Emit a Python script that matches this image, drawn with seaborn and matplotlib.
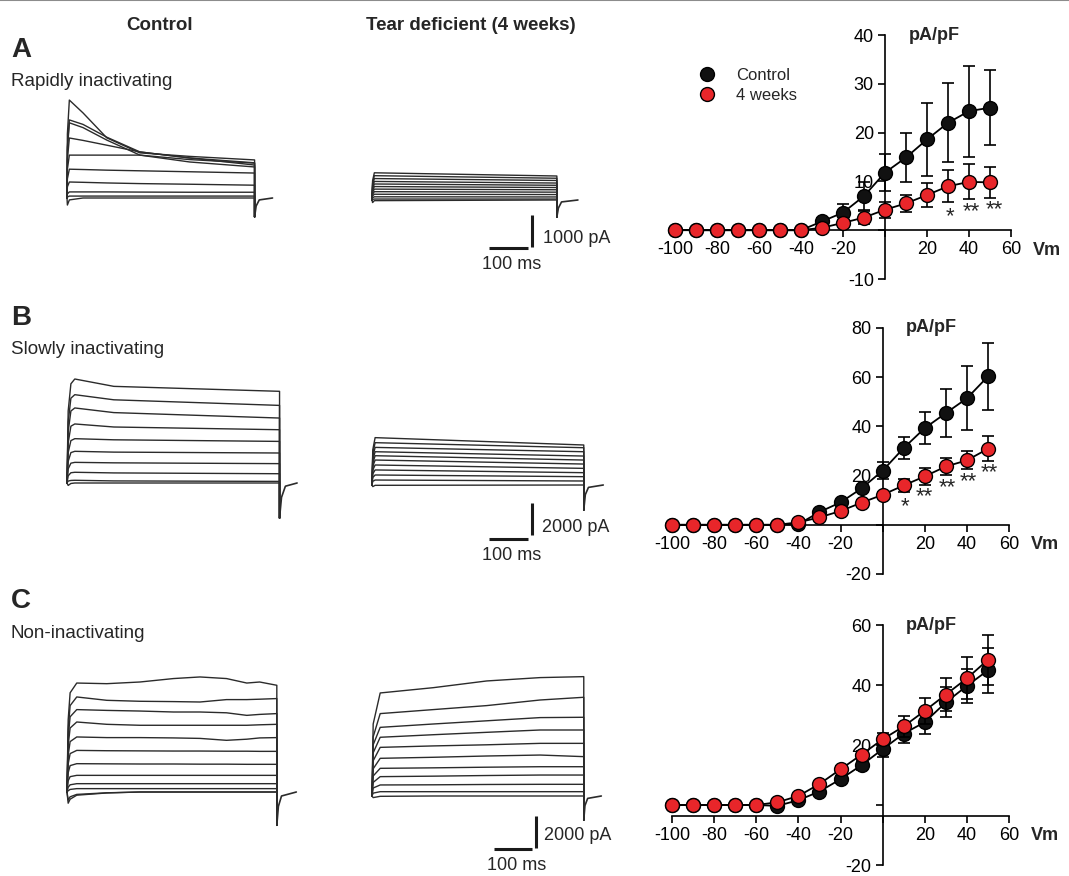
import numpy as np
import matplotlib
matplotlib.use('Agg')
import matplotlib.pyplot as plt
import seaborn as sns
from matplotlib.lines import Line2D

sns.set_style('white')
plt.rcParams['font.family'] = ['Liberation Sans', 'DejaVu Sans']

W, H = 1069, 876
PX_PER_MS = 0.39
TRACE_C = '#2b2b2b'
RED = '#e8262a'

# ---------------- I-V data (pA/pF vs Vm) ----------------
VM = [-100, -90, -80, -70, -60, -50, -40, -30, -20, -10, 0, 10, 20, 30, 40, 50]

A_CTRL = [0, 0, 0, 0, 0, 0, 0, 1.8, 3.6, 7.0, 11.8, 14.9, 18.6, 22.0, 24.4, 25.1]
A_CTRL_SEM = [0, 0, 0, 0, 0, 0, 0, 0.6, 1.8, 2.8, 3.8, 5.1, 7.4, 8.1, 9.3, 7.7]
A_4W = [0.1, 0, 0, 0, 0, 0, 0, 0.5, 1.5, 2.6, 4.2, 5.5, 7.2, 9.0, 9.9, 9.8]
A_4W_SEM = [0, 0, 0, 0, 0, 0, 0, 0.3, 0.5, 1.4, 1.6, 1.8, 2.5, 3.3, 3.6, 3.2]
A_STARS = [(31, 2.7, '*'), (41, 3.8, '**'), (52, 4.2, '**')]

B_CTRL = [0, 0, 0, 0, 0, 0, 0.2, 5.2, 9.1, 14.8, 22.0, 31.2, 39.3, 45.4, 51.4, 60.3]
B_CTRL_SEM = [0, 0, 0, 0, 0, 0, 0, 0.8, 1.0, 1.2, 3.4, 4.4, 6.6, 9.8, 13.0, 13.6]
B_4W = [0, 0, 0, 0, 0, 0, 1.0, 3.0, 5.6, 9.0, 12.2, 16.0, 19.7, 23.7, 26.2, 30.9]
B_4W_SEM = [0, 0, 0, 0, 0, 0, 0, 0.5, 0.8, 1.0, 1.2, 2.6, 3.4, 3.4, 3.6, 5.0]
B_STARS = [(10.5, 7.5, '*'), (20, 11.5, '**'), (30.5, 14.9, '**'), (40.5, 17.6, '**'), (50.5, 21.0, '**')]

C_CTRL = [0, 0, 0, 0, 0, -0.3, 1.6, 4.5, 8.6, 13.3, 18.6, 23.8, 27.6, 34.2, 39.7, 44.9]
C_CTRL_SEM = [0, 0, 0, 0, 0, 0, 0.5, 0.8, 1.2, 1.5, 2.5, 3.0, 3.9, 5.0, 5.8, 7.5]
C_4W = [0, 0, 0, 0, 0, 0.9, 3.0, 7.0, 11.9, 16.8, 21.9, 26.2, 31.4, 36.8, 42.2, 48.4]
C_4W_SEM = [0, 0, 0, 0, 0, 0, 0.5, 0.8, 1.0, 1.2, 2.0, 3.4, 4.3, 5.4, 7.0, 8.4]

# ---------------- current traces (ms, pA) ----------------
CTRL_A_T = [0, 1, 6, 41, 102, 187, 315, 481]
CTRL_A_I = [
    [0, 2000, 3060, 2660, 1880, 1410, 1300, 1190],
    [0, 1600, 2440, 2300, 1900, 1440, 1250, 1030],
    [0, 1500, 2350, 2200, 1810, 1340, 1125, 970],
    [0, 1200, 1875, 1800, 1650, 1440, 1250, 1100],
    [0, 900, 1340, 1340, 1340, 1340, 1200, 1090],
    [0, 600, 900, 890, 870, 850, 820, 780],
    [0, 350, 500, 490, 470, 450, 430, 400],
    [0, 130, 190, 190, 190, 185, 180, 180],
    [0, 30, 60, 60, 60, 60, 60, 60],
    [0, -220, -60, 0, 0, 0, 0, 0],
]
CTRL_A_TAIL_DT = [0, 4, 12, 46]
CTRL_A_TAIL_I = [-590, -250, -60, 0]

TEAR_A_T = [0, 1.5, 6, 474]
TEAR_A_I = [
    [0, 600, 850, 750],
    [0, 530, 760, 680],
    [0, 470, 670, 610],
    [0, 410, 580, 530],
    [0, 350, 500, 460],
    [0, 290, 420, 390],
    [0, 240, 340, 320],
    [0, 180, 260, 245],
    [0, 130, 180, 170],
    [0, 70, 100, 95],
    [0, 20, 30, 30],
    [0, -80, -20, 0],
]
TEAR_A_TAIL_DT = [0, 4, 12, 54]
TEAR_A_TAIL_I = [-530, -250, -60, 0]

CTRL_B_T = [0, 3, 10, 20, 120, 545]
CTRL_B_I = [
    [0, 4500, 6200, 6500, 6040, 5730],
    [0, 3800, 5300, 5520, 5200, 4850],
    [0, 3200, 4500, 4690, 4400, 4060],
    [0, 2500, 3550, 3690, 3500, 3330],
    [0, 1900, 2650, 2770, 2700, 2600],
    [0, 1350, 1900, 1980, 1930, 1875],
    [0, 880, 1240, 1290, 1260, 1210],
    [0, 450, 640, 670, 630, 580],
    [0, 120, 160, 170, 130, 100],
    [0, -150, -30, 0, 0, 0],
]
CTRL_B_TAIL_DT = [0, 5, 15, 45]
CTRL_B_TAIL_I = [-2190, -900, -200, 0]

TEAR_B_T = [0, 2, 8, 543]
TEAR_B_I = [
    [0, 2200, 2960, 2500],
    [0, 1980, 2645, 2330],
    [0, 1760, 2350, 2080],
    [0, 1560, 2080, 1810],
    [0, 1370, 1830, 1560],
    [0, 1170, 1560, 1310],
    [0, 940, 1250, 1040],
    [0, 700, 940, 770],
    [0, 470, 625, 520],
    [0, 230, 310, 250],
    [0, -100, -20, 0],
]
TEAR_B_TAIL_DT = [0, 4, 12, 50]
TEAR_B_TAIL_I = [-1560, -600, -150, 0]

CTRL_C_T = [0, 3, 8, 25, 102, 187, 273, 341, 409, 461, 494, 538]
CTRL_C_I = [
    [0, 4500, 6200, 6810, 6770, 6875, 7090, 7190, 7090, 6810, 6875, 6670],
    [0, 3900, 5400, 5940, 5730, 5670, 5650, 5625, 5775, 5775, 5800, 5840],
    [0, 3400, 4700, 5150, 5100, 5060, 5000, 5000, 4950, 4790, 4850, 4900],
    [0, 2900, 4000, 4375, 4230, 4170, 4170, 4170, 4170, 4170, 4200, 4230],
    [0, 2300, 3150, 3440, 3400, 3400, 3380, 3350, 3230, 3300, 3380, 3400],
    [0, 1750, 2400, 2600, 2580, 2570, 2560, 2560, 2550, 2550, 2540, 2540],
    [0, 1200, 1650, 1770, 1760, 1750, 1750, 1740, 1740, 1730, 1730, 1730],
    [0, 700, 960, 1040, 1040, 1040, 1040, 1040, 1040, 1040, 1040, 1040],
    [0, 300, 450, 520, 520, 520, 520, 520, 520, 520, 520, 520],
    [0, 80, 160, 210, 210, 210, 210, 210, 210, 210, 210, 210],
    [0, -700, -450, -200, -60, 0, 0, 0, 0, 0, 0, 0],
    [0, -500, -300, -150, -50, 0, 0, 0, 0, 0, 0, 0],
]
CTRL_C_TAIL_DT = [0, 4, 12, 50]
CTRL_C_TAIL_I = [-2080, -900, -250, 0]

TEAR_C_T = [0, 3, 21, 157, 294, 431, 543]
TEAR_C_I = [
    [0, 4500, 6440, 6770, 7190, 7400, 7460],
    [0, 3700, 5150, 5400, 5650, 6000, 6170],
    [0, 3200, 4290, 4500, 4700, 4900, 4920],
    [0, 2700, 3670, 3830, 3980, 4125, 4125],
    [0, 2200, 3040, 3130, 3200, 3290, 3290],
    [0, 1700, 2355, 2420, 2500, 2560, 2460],
    [0, 1250, 1730, 1760, 1800, 1830, 1830],
    [0, 850, 1210, 1240, 1280, 1310, 1310],
    [0, 500, 690, 700, 720, 730, 730],
    [0, 180, 270, 270, 270, 270, 270],
    [0, -100, -20, 0, 0, 0, 0],
]
TEAR_C_TAIL_DT = [0, 3, 10, 45]
TEAR_C_TAIL_I = [-1500, -600, -150, 0]


def px_axes(fig, x0, y0, x1, y1):
    return fig.add_axes([x0 / W, 1 - y1 / H, (x1 - x0) / W, (y1 - y0) / H])


def trace_axes(fig, box, t0_px, base_px, pa_per_px):
    x0, y0, x1, y1 = box
    ax = px_axes(fig, x0, y0, x1, y1)
    ax.set_xlim((x0 - t0_px) / PX_PER_MS, (x1 - t0_px) / PX_PER_MS)
    ax.set_ylim((base_px - y1) * pa_per_px, (base_px - y0) * pa_per_px)
    ax.axis('off')
    ax.patch.set_alpha(0)
    return ax


def draw_traces(ax, t, traces, tail_dt, tail_i):
    t_end = t[-1]
    for tr in traces:
        xs = list(t) + [t_end]
        ys = list(tr) + [tail_i[0]]
        sns.lineplot(x=xs, y=ys, estimator=None, sort=False, ax=ax,
                     color=TRACE_C, linewidth=1.0)
    sns.lineplot(x=[t_end + d for d in tail_dt], y=tail_i, estimator=None, sort=False,
                 ax=ax, color=TRACE_C, linewidth=1.2)


def scale_bar(ax, t_h0, t_h1, i_h, t_v, i_v0, i_v1, label_pa, t_pa, i_pa, t_ms, i_ms):
    ax.plot([t_h0, t_h1], [i_h, i_h], color='#1a1a1a', lw=2.2, solid_capstyle='butt')
    ax.plot([t_v, t_v], [i_v0, i_v1], color='#1a1a1a', lw=2.2, solid_capstyle='butt')
    ax.text(t_pa, i_pa, label_pa, ha='left', va='center', fontsize=13)
    ax.text(t_ms, i_ms, '100 ms', ha='center', va='center', fontsize=13)


def iv_panel(fig, box, ylim, yticks, x_axis_y, ctrl, ctrl_sem, wk, wk_sem, stars=None):
    ax = px_axes(fig, *box)
    ax.patch.set_alpha(0)
    ax.errorbar(VM, ctrl, yerr=ctrl_sem, fmt='none', ecolor='black', elinewidth=1.2,
                capsize=4, capthick=1.2, zorder=2, clip_on=False)
    sns.lineplot(x=VM, y=ctrl, ax=ax, color='black', linewidth=1.3, marker='o',
                 markersize=10, markerfacecolor='#111111', markeredgecolor='black',
                 markeredgewidth=1.0, zorder=3, clip_on=False, label='Control')
    ax.errorbar(VM, wk, yerr=wk_sem, fmt='none', ecolor='black', elinewidth=1.2,
                capsize=4, capthick=1.2, zorder=4, clip_on=False)
    sns.lineplot(x=VM, y=wk, ax=ax, color='black', linewidth=1.3, marker='o',
                 markersize=10, markerfacecolor=RED, markeredgecolor='black',
                 markeredgewidth=1.0, zorder=5, clip_on=False, label='4 weeks')
    ax.get_legend().remove()
    ax.set_xlim(-100, 60)
    ax.set_ylim(*ylim)
    for s in ['top', 'right']:
        ax.spines[s].set_visible(False)
    ax.spines['left'].set_position(('data', 0))
    ax.spines['bottom'].set_position(('data', x_axis_y))
    for s in ['left', 'bottom']:
        ax.spines[s].set_linewidth(1.2)
        ax.spines[s].set_color('black')
    xt = list(range(-100, 61, 20))
    ax.set_xticks(xt)
    ax.set_xticklabels(['' if v == 0 else str(v) for v in xt])
    ax.set_yticks(yticks)
    ax.set_yticklabels(['' if v == 0 else str(v) for v in yticks])
    ax.tick_params(axis='both', direction='out', length=5, width=1.2, labelsize=13,
                   colors='black', bottom=True, left=True, pad=3)
    ax.set_xlabel('')
    ax.set_ylabel('')
    ax.annotate('Vm', xy=(60, x_axis_y), xytext=(16, -14.5), textcoords='offset points',
                fontsize=13, fontweight='bold', ha='left', va='center')
    ax.annotate('pA/pF', xy=(0, ylim[1]), xytext=(17, 0), textcoords='offset points',
                fontsize=13, fontweight='bold', ha='left', va='center')
    if stars:
        for x, y, s in stars:
            ax.text(x, y, s, ha='center', va='center', fontsize=16)
    return ax


fig = plt.figure(figsize=(W / 100, H / 100), dpi=100)
fig.patch.set_facecolor('white')
fig.add_artist(Line2D([0, 1], [0.9995, 0.9995], color='#8c8c8c', lw=1.5, transform=fig.transFigure))

# headers and panel labels
fig.text(160 / W, 1 - 25 / H, 'Control', ha='center', va='center', fontsize=13.5, fontweight='bold')
fig.text(471 / W, 1 - 25 / H, 'Tear deficient (4 weeks)', ha='center', va='center', fontsize=13.5,
         fontweight='bold')
for lab, sub, y_lab, y_sub in [('A', 'Rapidly inactivating', 50, 82),
                               ('B', 'Slowly inactivating', 318, 349),
                               ('C', 'Non-inactivating', 601, 633)]:
    fig.text(11 / W, 1 - y_lab / H, lab, ha='left', va='center', fontsize=20, fontweight='bold')
    fig.text(11 / W, 1 - y_sub / H, sub, ha='left', va='center', fontsize=13.5)

# traces
ax = trace_axes(fig, (40, 85, 320, 245), 67, 198, 1000 / 32)
draw_traces(ax, CTRL_A_T, CTRL_A_I, CTRL_A_TAIL_DT, CTRL_A_TAIL_I)
ax = trace_axes(fig, (350, 85, 640, 285), 372, 200, 1000 / 32)
draw_traces(ax, TEAR_A_T, TEAR_A_I, TEAR_A_TAIL_DT, TEAR_A_TAIL_I)
scale_bar(ax, 300, 400, -1500, 410, -470, -1470, '1000 pA', 438, -1190, 359, -2030)

ax = trace_axes(fig, (40, 360, 320, 560), 67, 483, 2000 / 32)
draw_traces(ax, CTRL_B_T, CTRL_B_I, CTRL_B_TAIL_DT, CTRL_B_TAIL_I)
ax = trace_axes(fig, (350, 360, 660, 575), 372, 485, 2000 / 32)
draw_traces(ax, TEAR_B_T, TEAR_B_I, TEAR_B_TAIL_DT, TEAR_B_TAIL_I)
scale_bar(ax, 300, 400, -3375, 410, -1125, -3125, '2000 pA', 436, -2625, 359, -4375)

ax = trace_axes(fig, (40, 640, 320, 860), 67, 792, 2000 / 32)
draw_traces(ax, CTRL_C_T, CTRL_C_I, CTRL_C_TAIL_DT, CTRL_C_TAIL_I)
ax = trace_axes(fig, (350, 640, 660, 876), 372, 796, 2000 / 32)
draw_traces(ax, TEAR_C_T, TEAR_C_I, TEAR_C_TAIL_DT, TEAR_C_TAIL_I)
scale_bar(ax, 313, 410, -3310, 420, -1250, -3250, '2000 pA', 441, -2500, 372, -4375)

# I-V curves
ax_a = iv_panel(fig, (675, 35, 1011, 279), (-10, 40), [-10, 0, 10, 20, 30, 40], 0,
                A_CTRL, A_CTRL_SEM, A_4W, A_4W_SEM, A_STARS)
handles = [Line2D([], [], ls='', marker='o', markersize=10, markerfacecolor='#111111',
                  markeredgecolor='black'),
           Line2D([], [], ls='', marker='o', markersize=10, markerfacecolor=RED,
                  markeredgecolor='black')]
ax_a.legend(handles, ['Control', '4 weeks'], loc='upper left', bbox_to_anchor=(699 / W, 1 - 68 / H),
            bbox_transform=fig.transFigure, frameon=False, fontsize=12, handlelength=1.0,
            handletextpad=1.2, borderpad=0, borderaxespad=0, labelspacing=0.3)

iv_panel(fig, (672, 328, 1009, 574), (-20, 80), [-20, 0, 20, 40, 60, 80], 0,
         B_CTRL, B_CTRL_SEM, B_4W, B_4W_SEM, B_STARS)
iv_panel(fig, (672, 625, 1009, 865), (-20, 60), [-20, 0, 20, 40, 60], -3.5,
         C_CTRL, C_CTRL_SEM, C_4W, C_4W_SEM)

fig.savefig('out.png', dpi=100, facecolor='white')
